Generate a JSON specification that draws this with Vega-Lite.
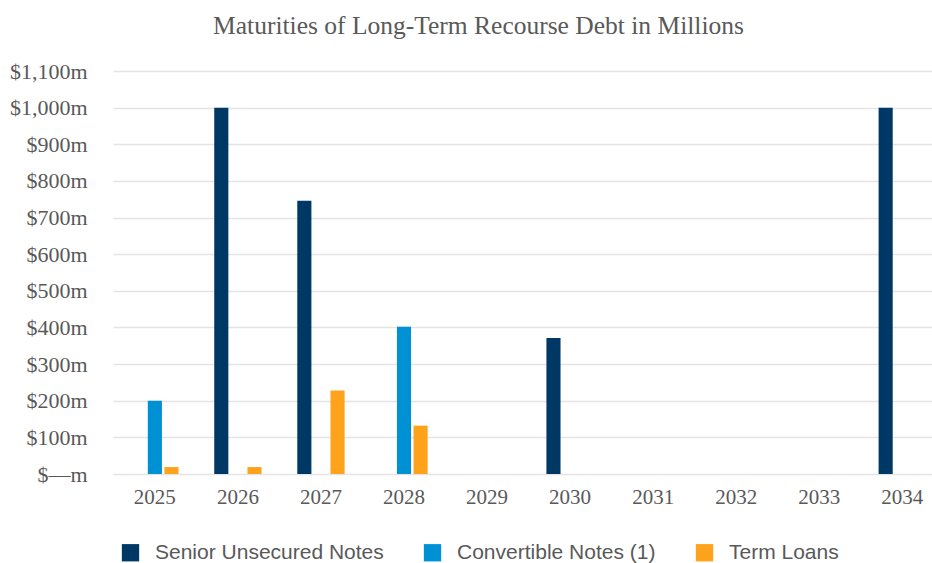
{
  "$schema": "https://vega.github.io/schema/vega-lite/v6.json",
  "autosize": {"type": "none"},
  "padding": {"left": 113, "top": 71, "right": 0, "bottom": 89},
  "width": 819,
  "height": 403,
  "background": "white",
  "title": {
    "text": "Maturities of Long-Term Recourse Debt in Millions",
    "font": "Liberation Serif",
    "fontSize": 25.5,
    "fontWeight": "normal",
    "color": "#595959",
    "anchor": "middle",
    "frame": "group",
    "baseline": "alphabetic",
    "dx": -44,
    "offset": 1
  },
  "data": {
    "values": [
      {"year": "2025", "series": "Convertible Notes (1)", "value": 200},
      {"year": "2025", "series": "Term Loans", "value": 19},
      {"year": "2026", "series": "Senior Unsecured Notes", "value": 1000},
      {"year": "2026", "series": "Term Loans", "value": 19},
      {"year": "2027", "series": "Senior Unsecured Notes", "value": 746},
      {"year": "2027", "series": "Term Loans", "value": 228},
      {"year": "2028", "series": "Convertible Notes (1)", "value": 402},
      {"year": "2028", "series": "Term Loans", "value": 132},
      {"year": "2030", "series": "Senior Unsecured Notes", "value": 371},
      {"year": "2034", "series": "Senior Unsecured Notes", "value": 1000}
    ]
  },
  "mark": {"type": "bar"},
  "encoding": {
    "x": {
      "field": "year",
      "type": "nominal",
      "scale": {
        "domain": ["2025", "2026", "2027", "2028", "2029", "2030", "2031", "2032", "2033", "2034"],
        "paddingInner": 0.43,
        "paddingOuter": 0.146,
        "align": 0.75
      },
      "axis": {
        "title": null,
        "labelAngle": 0,
        "domain": false,
        "ticks": false,
        "labelFont": "Liberation Serif",
        "labelFontSize": 21,
        "labelColor": "#595959",
        "labelPadding": 12
      }
    },
    "xOffset": {
      "field": "series",
      "type": "nominal",
      "scale": {
        "domain": ["Senior Unsecured Notes", "Convertible Notes (1)", "Term Loans"],
        "paddingInner": 0.15,
        "paddingOuter": 0
      }
    },
    "y": {
      "field": "value",
      "type": "quantitative",
      "scale": {"domain": [0, 1100], "nice": false},
      "axis": {
        "title": null,
        "values": [0, 100, 200, 300, 400, 500, 600, 700, 800, 900, 1000, 1100],
        "labelExpr": "datum.value == 0 ? '$—m' : '$' + format(datum.value, ',') + 'm'",
        "domain": false,
        "ticks": false,
        "grid": true,
        "gridColor": "#e4e4e4",
        "gridWidth": 1.5,
        "labelFont": "Liberation Serif",
        "labelFontSize": 22,
        "labelColor": "#595959",
        "labelPadding": 26
      }
    },
    "color": {
      "field": "series",
      "type": "nominal",
      "scale": {
        "domain": ["Senior Unsecured Notes", "Convertible Notes (1)", "Term Loans"],
        "range": ["#003865", "#0090d4", "#ffa21c"]
      },
      "legend": {
        "title": null,
        "orient": "none",
        "legendX": 7,
        "legendY": 471,
        "direction": "horizontal",
        "columns": 3,
        "columnPadding": 38,
        "padding": 0,
        "symbolType": "square",
        "symbolSize": 300,
        "symbolStrokeWidth": 0,
        "symbolOpacity": 1,
        "labelOffset": 14,
        "labelFont": "Liberation Sans",
        "labelFontSize": 21,
        "labelColor": "#595959",
        "labelLimit": 400
      }
    }
  },
  "config": {
    "view": {"stroke": null},
    "axis": {"gridCap": "butt"}
  }
}
